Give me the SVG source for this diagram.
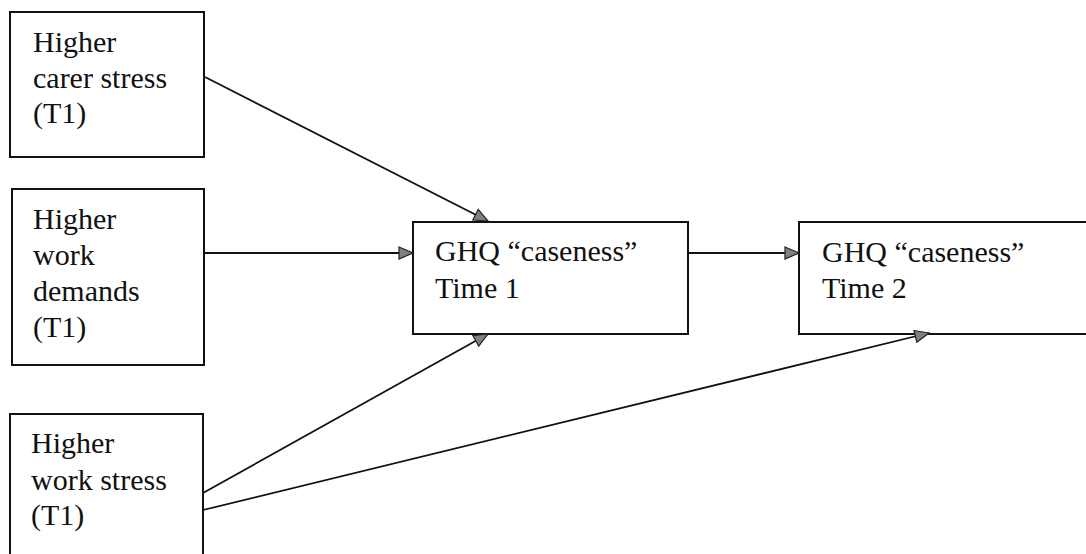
<svg xmlns="http://www.w3.org/2000/svg" width="1086" height="554" viewBox="0 0 1086 554">
  <style>
    .box { fill: #fff; stroke: #111; stroke-width: 2; }
    .lbl { font-family: "Liberation Serif", "Times New Roman", serif; font-size: 30px; fill: #111; }
    .edge { stroke: #111; stroke-width: 1.8; fill: none; marker-end: url(#arrow); }
  </style>
  <defs>
    <marker id="arrow" markerUnits="userSpaceOnUse" markerWidth="18" markerHeight="16" refX="15" refY="7" orient="auto">
      <path d="M1,1 L15,7 L1,13 Z" fill="#808080" stroke="#222" stroke-width="1.2"/>
    </marker>
  </defs>
  <rect width="1086" height="554" fill="#fff"/>

  <g id="carer-stress">
    <rect class="box" x="10" y="12" width="194" height="145"/>
    <text class="lbl" x="33" y="52">Higher</text>
    <text class="lbl" x="33" y="88">carer stress</text>
    <text class="lbl" x="33" y="123">(T1)</text>
  </g>

  <g id="work-demands">
    <rect class="box" x="12" y="189" width="192" height="176"/>
    <text class="lbl" x="33" y="229">Higher</text>
    <text class="lbl" x="33" y="265">work</text>
    <text class="lbl" x="33" y="301">demands</text>
    <text class="lbl" x="33" y="337">(T1)</text>
  </g>

  <g id="work-stress">
    <rect class="box" x="10" y="414" width="193" height="160"/>
    <text class="lbl" x="31" y="453">Higher</text>
    <text class="lbl" x="31" y="490">work stress</text>
    <text class="lbl" x="31" y="525">(T1)</text>
  </g>

  <g id="ghq-time1">
    <rect class="box" x="413" y="222" width="275" height="112"/>
    <text class="lbl" x="435" y="261">GHQ “caseness”</text>
    <text class="lbl" x="435" y="298">Time 1</text>
  </g>

  <g id="ghq-time2">
    <rect class="box" x="799" y="222" width="310" height="112"/>
    <text class="lbl" x="822" y="262">GHQ “caseness”</text>
    <text class="lbl" x="822" y="298">Time 2</text>
  </g>

  <g id="connectors">
    <line class="edge" x1="205" y1="77" x2="488" y2="221"/>
    <line class="edge" x1="205" y1="253" x2="413" y2="253"/>
    <line class="edge" x1="688" y1="253" x2="799" y2="253"/>
    <line class="edge" x1="203" y1="493" x2="488" y2="334"/>
    <line class="edge" x1="203" y1="510" x2="929" y2="333"/>
  </g>
</svg>
